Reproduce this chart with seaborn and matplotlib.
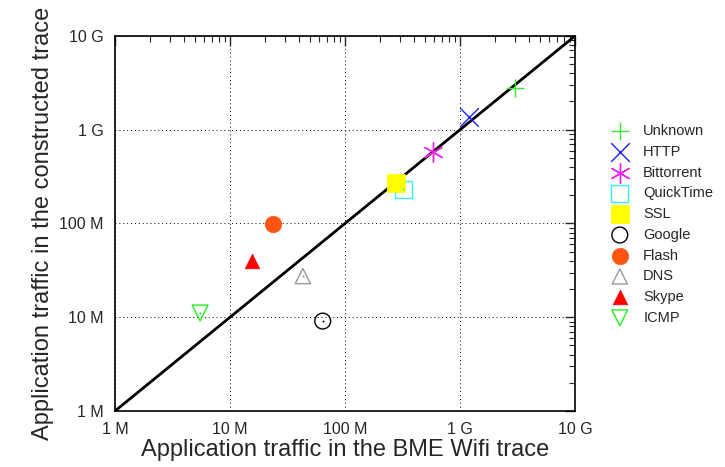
import pandas as pd
import numpy as np
import seaborn as sns
import matplotlib.pyplot as plt
from matplotlib.ticker import FixedLocator, LogLocator, NullFormatter

# values (bytes)
apps = ["Unknown", "HTTP", "Bittorrent", "QuickTime", "SSL",
        "Google", "Flash", "DNS", "Skype", "ICMP"]
bme_traffic = [3.0e9, 1.2e9, 5.8e8, 3.2e8, 2.8e8, 6.4e7, 2.36e7, 4.3e7, 1.55e7, 5.5e6]
constructed_traffic = [2.8e9, 1.37e9, 5.8e8, 2.33e8, 2.7e8, 9.1e6, 9.9e7, 2.75e7, 4.0e7, 1.11e7]

tick_vals = [1e6, 1e7, 1e8, 1e9, 1e10]
tick_labels = ["1 M", "10 M", "100 M", "1 G", "10 G"]

# marker, colour, filled, size
styles = {
    "Unknown":    ("+", "#33ee33", True, 160),
    "HTTP":       ("x", "#2222ee", True, 180),
    "Bittorrent": ((6, 2, 0), "#ee22ee", True, 200),
    "QuickTime":  ("s", "#33eeee", False, 150),
    "SSL":        ("s", "#ffff00", True, 170),
    "Google":     ("o", "black", False, 130),
    "Flash":      ("o", "#ff5511", True, 140),
    "DNS":        ("^", "#999999", False, 120),
    "Skype":      ("^", "#ff0000", True, 110),
    "ICMP":       ("v", "#22ee22", False, 130),
}

df = pd.DataFrame({"app": apps, "bme": bme_traffic, "constructed": constructed_traffic})

sns.set_style("white")
plt.rcParams['font.family'] = ['Liberation Sans', 'DejaVu Sans']

fig = plt.figure(figsize=(7.25, 4.67), dpi=100)
ax = fig.add_axes([0.1586, 0.1199, 0.6345, 0.8031])

# diagonal
diag = pd.DataFrame({"x": [1e6, 1e10], "y": [1e6, 1e10]})
sns.lineplot(data=diag, x="x", y="y", color="black", linewidth=2, ax=ax, legend=False)

for app in apps:
    marker, color, filled, size = styles[app]
    sub = df[df["app"] == app]
    if marker in ("+", "x") or isinstance(marker, tuple):
        kw = dict(color=color, linewidths=1.0)
    elif filled:
        kw = dict(color=color, edgecolor=color, linewidth=0.5)
    else:
        kw = dict(facecolor="none", edgecolor=color, linewidth=1.0)
    sns.scatterplot(data=sub, x="bme", y="constructed", marker=marker, s=size,
                    label=app, ax=ax, zorder=3, **kw)
    if not filled:
        # gnuplot-style centre dot on open markers
        sns.scatterplot(data=sub, x="bme", y="constructed", marker="o", s=2,
                        color=color, linewidth=0, ax=ax, zorder=4, legend=False)

ax.set_xscale("log")
ax.set_yscale("log")
ax.set_xlim(1e6, 1e10)
ax.set_ylim(1e6, 1e10)

for axis in (ax.xaxis, ax.yaxis):
    axis.set_major_locator(FixedLocator(tick_vals))
    axis.set_minor_locator(LogLocator(base=10, subs=np.arange(2, 10), numticks=20))
    axis.set_minor_formatter(NullFormatter())
ax.set_xticklabels(tick_labels)
ax.set_yticklabels(tick_labels)

ax.tick_params(which="both", direction="in", top=True, right=True, labelsize=11.5, pad=8)
ax.tick_params(which="major", length=7, width=1)
ax.tick_params(which="minor", length=4, width=0.8)
ax.grid(True, which="major", color="black", linestyle=(0, (1, 3)), linewidth=0.7)
for sp in ax.spines.values():
    sp.set_color("black")
    sp.set_linewidth(1.2)

ax.set_xlabel("Application traffic in the BME Wifi trace", fontsize=17, labelpad=1)
ax.set_ylabel("Application traffic in the constructed trace", fontsize=17, labelpad=4)

handles, labels = ax.get_legend_handles_labels()
ax.legend(handles[:len(apps)], labels[:len(apps)], loc="upper left",
          bbox_to_anchor=(1.053, 0.78), frameon=False, fontsize=10.5,
          labelspacing=0.46, handletextpad=0.6, borderaxespad=0, scatterpoints=1)

plt.savefig("out.png", dpi=100)
